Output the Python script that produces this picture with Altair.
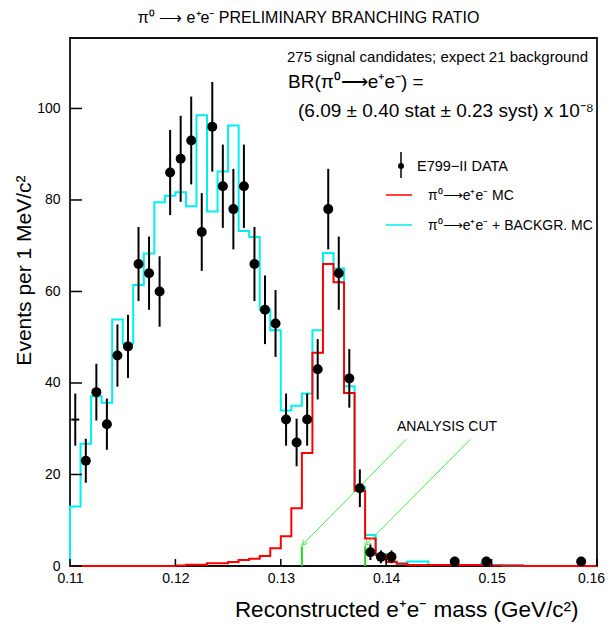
import altair as alt
import pandas as pd

# ---------------- data ----------------
bin_lo = 0.110
bin_w = 0.001

# MC histograms, 1 MeV bins from 0.110 to 0.160
cyan_mc = [13.0, 26.7, 37.1, 35.7, 53.9, 48.6, 61.4, 68.3, 79.5, 80.9,
           81.7, 78.6, 98.5, 77.5, 86.2, 96.3, 73.2, 71.9, 56.0, 51.5,
           34.0, 35.0, 37.7, 51.5, 68.4, 65.0, 39.3, 17.2, 6.8, 2.6,
           1.0, 0.6, 1.0, 1.0, 0.2, 0.2, 0.2, 0.2, 0.2, 0.6,
           0.2, 0.1, 0.1, 0.0, 0.0, 0.0, 0.0, 0.0, 0.0, 0.0]
red_mc = [0.0, 0.0, 0.0, 0.0, 0.0, 0.0, 0.0, 0.0, 0.0, 0.0,
          0.1, 0.3, 0.3, 0.6, 0.6, 0.9, 1.3, 1.6, 2.2, 3.9,
          6.5, 12.6, 24.7, 46.6, 66.0, 62.0, 37.8, 16.4, 6.0, 2.4,
          0.9, 0.5, 0.2, 0.2, 0.2, 0.2, 0.2, 0.2, 0.2, 0.2,
          0.1, 0.1, 0.1, 0.0, 0.0, 0.0, 0.0, 0.0, 0.0, 0.0]

# E799-II data points
data_mass = [0.1105, 0.1115, 0.1125, 0.1135, 0.1145, 0.1155, 0.1165, 0.1175,
             0.1185, 0.1195, 0.1205, 0.1215, 0.1225, 0.1235, 0.1245, 0.1255,
             0.1265, 0.1275, 0.1285, 0.1295, 0.1305, 0.1315, 0.1325, 0.1335,
             0.1345, 0.1355, 0.1365, 0.1375, 0.1385, 0.1395, 0.1405, 0.1465,
             0.1495, 0.1585]
data_n = [32, 23, 38, 31, 46, 48, 66, 64, 60, 86, 89, 93, 73, 96, 83, 78, 83,
          66, 56, 53, 32, 27, 32, 43, 78, 64, 41, 17, 3, 2, 2, 1, 1, 1]
data_err = [5.7, 4.8, 6.2, 5.6, 6.8, 6.9, 8.1, 8.0, 7.7, 9.3, 9.4, 9.6, 8.5,
            9.8, 9.1, 8.8, 9.1, 8.1, 7.5, 7.3, 5.7, 5.2, 5.7, 6.6, 8.8, 8.0,
            6.4, 4.1, 1.7, 1.4, 1.4, 1.0, 1.0, 1.0]

# analysis cut markers and arrows
cut_mass = [0.132, 0.138]
cut_height = [4.3, 4.3]
arrow_from_mass = [0.1419, 0.1480]
arrow_from_n = [27.7, 27.7]

x_ticks = [0.11, 0.12, 0.13, 0.14, 0.15, 0.16]
y_ticks = [0, 20, 40, 60, 80, 100]

# ---------------- tables ----------------
n_bins = len(cyan_mc)
edges = [round(bin_lo + i * bin_w, 4) for i in range(n_bins + 1)]


def step_table(vals, start_zero=True):
    xs = list(edges)
    ys = list(vals) + [vals[-1]]
    if start_zero:
        xs = [edges[0]] + xs
        ys = [0.0] + ys
    return pd.DataFrame({"mass": xs, "count": ys, "idx": range(len(xs))})


cyan_df = step_table(cyan_mc)
red_df = step_table(red_mc)
pts_df = pd.DataFrame({
    "mass": data_mass,
    "count": data_n,
    "lo": [n - e for n, e in zip(data_n, data_err)],
    "hi": [n + e for n, e in zip(data_n, data_err)],
})
cut_df = pd.DataFrame({"mass": cut_mass, "count": [0, 0], "top": cut_height})
arrow_df = pd.DataFrame({"mass": arrow_from_mass, "count": arrow_from_n,
                         "mass2": cut_mass, "count2": [h + 0.2 for h in cut_height]})
xt_df = pd.DataFrame({"mass": x_ticks})
yt_df = pd.DataFrame({"count": y_ticks})

# ---------------- scales / axes ----------------
W, H = 527, 528
FONT = "Liberation Sans"
xs = alt.Scale(domain=[0.11, 0.16], nice=False, zero=False)
ys = alt.Scale(domain=[0, 115.4], nice=False)

xaxis = alt.Axis(values=x_ticks, format=".2f", ticks=False, domain=False, grid=False,
                 labelFontSize=14, labelFont=FONT, labelColor="black", labelPadding=5,
                 labelFlush=False,
                 labelOffset={"condition": {"test": "datum.value > 0.1595", "value": -6},
                              "value": 0},
                 title="Reconstructed e⁺e⁻ mass (GeV/c²)",
                 titleFont=FONT, titleFontSize=22.5, titleFontWeight="normal",
                 titleColor="black", titleAlign="right", titleAnchor="end",
                 titleX=508, titleY=50, titleBaseline="alphabetic")
yaxis = alt.Axis(values=y_ticks, format="d", ticks=False, domain=False, grid=False,
                 labelFontSize=14, labelFont=FONT, labelColor="black", labelPadding=10,
                 labelFlush=False, title="Events per 1 MeV/c²",
                 titleFont=FONT, titleFontSize=21, titleFontWeight="normal",
                 titleColor="black", titleAlign="center", titleAngle=270,
                 titleX=-40, titleY=232, titleBaseline="alphabetic")


def X(f="mass"):
    return alt.X(f"{f}:Q", scale=xs, axis=xaxis)


def Y(f="count"):
    return alt.Y(f"{f}:Q", scale=ys, axis=yaxis)


one = alt.Data(values=[{}])
frame = alt.Chart(one).mark_rect(filled=False, stroke="#111111", strokeWidth=1.8).encode(
    x=alt.value(0), x2=alt.value(W), y=alt.value(0), y2=alt.value(H))

cyan_line = alt.Chart(cyan_df).mark_line(interpolate="step-after", color="#00f0f0",
                                         strokeWidth=2).encode(x=X(), y=Y(), order="idx:Q")
red_line = alt.Chart(red_df).mark_line(interpolate="step-after", color="#ff0000",
                                       strokeWidth=2).encode(x=X(), y=Y(), order="idx:Q")

err_bars = alt.Chart(pts_df).mark_rule(color="black", strokeWidth=2).encode(
    x=X(), y=Y("lo"), y2="hi:Q")
dots = alt.Chart(pts_df).transform_filter("datum.mass > 0.111").mark_point(
    shape="circle", filled=True, size=100, color="black", opacity=1).encode(x=X(), y=Y())
first_mark = alt.Chart(pts_df).transform_filter("datum.mass < 0.111").mark_point(
    shape="stroke", size=64, strokeWidth=2, color="black", opacity=1).encode(x=X(), y=Y())

cut_lines = alt.Chart(cut_df).mark_rule(color="#22dd22", strokeWidth=2).encode(
    x=X(), y=Y(), y2="top:Q")
arrows = alt.Chart(arrow_df).mark_rule(color="#44ee44", strokeWidth=1).encode(
    x=X(), y=Y(), x2="mass2:Q", y2="count2:Q")
heads = alt.Chart(arrow_df).mark_point(
    shape="M0.94,-0.34 L0,0 L0.34,-0.94", size=144, filled=False,
    color="#44ee44", strokeWidth=1, opacity=1).encode(x=X("mass2"), y=Y("count2"))

xt = alt.Chart(xt_df).mark_rule(color="black", strokeWidth=1.5).encode(
    x=X(), y=alt.value(H), y2=alt.value(H - 7))
yt = alt.Chart(yt_df).mark_rule(color="black", strokeWidth=1.5).encode(
    y=Y(), x=alt.value(0), x2=alt.value(12))


def label(txt, x, y, size, font=FONT, align="left"):
    return alt.Chart(alt.Data(values=[{}])).mark_text(
        text=txt, align=align, baseline="alphabetic", fontSize=size, font=font,
        color="black").encode(x=alt.value(x), y=alt.value(y))


texts = [
    label("275 signal candidates; expect 21 background", 217, 24, 15),
    label("BR(π⁰⟶e⁺e⁻) =", 218, 50, 19),
    label("(6.09 ± 0.40 stat ± 0.23 syst) x 10⁻⁸", 228, 79, 19),
    label("E799−II DATA", 347, 133, 14.5),
    label("π⁰⟶e⁺e⁻ MC", 358, 162, 14),
    label("π⁰⟶e⁺e⁻ + BACKGR. MC", 358, 192, 14),
    label("ANALYSIS CUT", 327, 393, 14),
]

leg_bar = alt.Chart(one).mark_rule(color="black", strokeWidth=1.5).encode(
    x=alt.value(331), y=alt.value(114), y2=alt.value(140))
leg_dot = alt.Chart(one).mark_point(filled=True, size=36, color="black", opacity=1).encode(
    x=alt.value(331), y=alt.value(128))
leg_red = alt.Chart(one).mark_rule(color="#ff0000", strokeWidth=1.5).encode(
    x=alt.value(316), x2=alt.value(342), y=alt.value(157))
leg_cyan = alt.Chart(one).mark_rule(color="#00f0f0", strokeWidth=1.5).encode(
    x=alt.value(316), x2=alt.value(342), y=alt.value(187))

chart = alt.layer(
    frame, cyan_line, red_line, cut_lines, arrows, heads, err_bars, dots, first_mark,
    xt, yt, leg_bar, leg_dot, leg_red, leg_cyan, *texts
).properties(
    width=W, height=H,
    title=alt.TitleParams("π⁰ ⟶ e⁺e⁻ PRELIMINARY BRANCHING RATIO", font=FONT,
                          fontSize=16, fontWeight="normal", color="black",
                          anchor="middle", offset=11, dx=-25),
    autosize=alt.AutoSizeParams(type="none"),
    padding={"left": 62, "top": 30, "right": 10, "bottom": 60},
).configure_view(strokeWidth=0).configure(background="white")

chart.save("out.html", embed_options={"renderer": "svg", "actions": False})
